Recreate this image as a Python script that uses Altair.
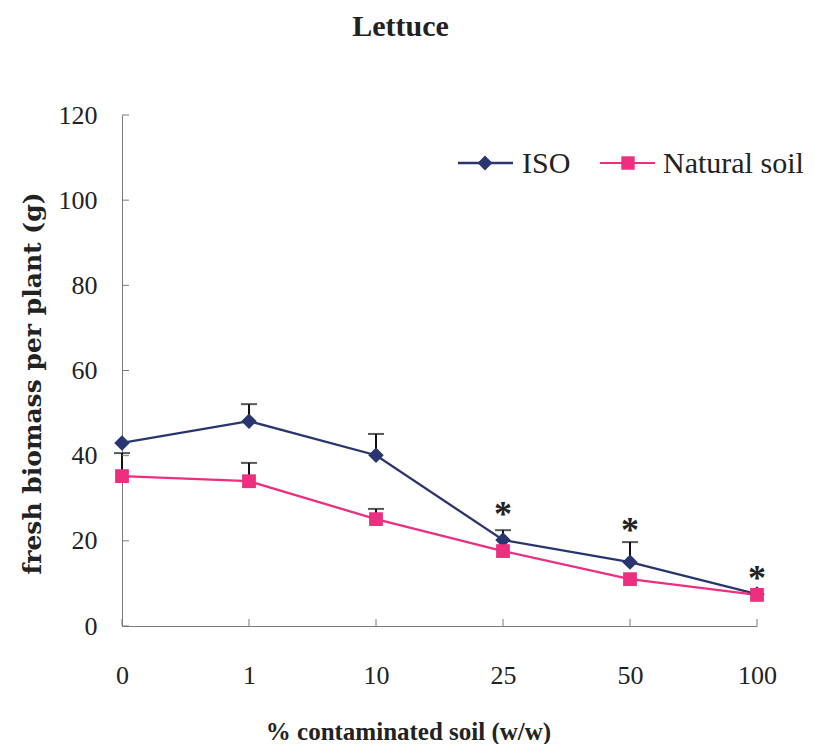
import altair as alt
import pandas as pd

categories = ["0", "1", "10", "25", "50", "100"]
iso_mean = [43.0, 48.1, 40.1, 20.2, 15.0, 7.5]
iso_upper = [None, 52.1, 45.1, 22.5, 19.7, None]
nat_mean = [35.2, 34.0, 25.1, 17.6, 11.0, 7.3]
nat_upper = [40.6, 38.3, 27.5, None, None, None]
star_cats = ["25", "50", "100"]
star_y = [27.7, 23.9, 12.7]
y_ticks = [0, 20, 40, 60, 80, 100, 120]

NAVY = "#28356E"
PINK = "#EC2F7E"
AXIS_GRAY = "#7a7a7a"
SERIF = "Liberation Serif"

rows = []
for c, m, u in zip(categories, iso_mean, iso_upper):
    rows.append({"cat": c, "series": "ISO", "mean": m, "upper": u})
for c, m, u in zip(categories, nat_mean, nat_upper):
    rows.append({"cat": c, "series": "Natural soil", "mean": m, "upper": u})
df = pd.DataFrame(rows)
err = df.dropna(subset=["upper"])
stars = pd.DataFrame({"cat": star_cats, "y": star_y, "t": ["*"] * len(star_cats)})
xt = pd.DataFrame({"cat": categories})
yt = pd.DataFrame({"v": y_ticks})

x_enc = alt.X(
    "cat:N",
    sort=categories,
    scale=alt.Scale(type="point", padding=0),
    axis=alt.Axis(
        title="% contaminated soil (w/w)",
        titleFont=SERIF, titleFontSize=25, titleFontWeight="bold", titleColor="#222",
        titleX=286, titleY=105, titleBaseline="middle",
        labelFont=SERIF, labelFontSize=26, labelColor="#222", labelAngle=0,
        labelPadding=36, ticks=False, domainColor=AXIS_GRAY, domainWidth=1, grid=False,
    ),
)
y_scale = alt.Scale(domain=[0, 120], nice=False, zero=True)
y_enc = alt.Y(
    "mean:Q",
    scale=y_scale,
    axis=alt.Axis(
        title="fresh biomass per plant (g)",
        titleFont="DejaVu Serif", titleFontSize=25, titleFontWeight="bold", titleColor="#222",
        titleX=-90, titleY=268, titleAngle=-90, titleBaseline="middle", titleAlign="center",
        labelFont=SERIF, labelFontSize=26, labelColor="#222",
        labelPadding=25, ticks=False, values=y_ticks, domainColor=AXIS_GRAY, domainWidth=1, grid=False,
    ),
)
color_enc = alt.Color(
    "series:N",
    scale=alt.Scale(domain=["ISO", "Natural soil"], range=[NAVY, PINK]),
    legend=None,
)

base = alt.Chart(df)

lines = base.mark_line(strokeWidth=2.3).encode(x=x_enc, y=y_enc, color=color_enc)

err_rule = alt.Chart(err).mark_rule(color="#111", strokeWidth=2).encode(
    x=alt.X("cat:N", sort=categories),
    y=alt.Y("mean:Q", scale=y_scale),
    y2="upper:Q",
)
err_cap = alt.Chart(err).mark_tick(color="#111", thickness=2, size=16).encode(
    x=alt.X("cat:N", sort=categories),
    y=alt.Y("upper:Q", scale=y_scale),
)

iso_pts = alt.Chart(df[df.series == "ISO"]).mark_point(
    shape="diamond", filled=True, size=240, opacity=1, color=NAVY
).encode(x=alt.X("cat:N", sort=categories), y=alt.Y("mean:Q", scale=y_scale))
nat_pts = alt.Chart(df[df.series == "Natural soil"]).mark_point(
    shape="square", filled=True, size=190, opacity=1, color=PINK
).encode(x=alt.X("cat:N", sort=categories), y=alt.Y("mean:Q", scale=y_scale))

star_text = alt.Chart(stars).mark_text(
    font=SERIF, fontSize=36, fontWeight="bold", color="#222", baseline="middle", dy=7
).encode(x=alt.X("cat:N", sort=categories), y=alt.Y("y:Q", scale=y_scale), text="t:N")

xticks = alt.Chart(xt).mark_rule(color=AXIS_GRAY, strokeWidth=1).encode(
    x=alt.X("cat:N", sort=categories), y=alt.value(504), y2=alt.value(511)
)
yticks = alt.Chart(yt).mark_rule(color=AXIS_GRAY, strokeWidth=1).encode(
    y=alt.Y("v:Q", scale=y_scale), x=alt.value(0), x2=alt.value(7)
)

# legend
leg_iso = pd.DataFrame({"series": ["ISO"]})
leg_nat = pd.DataFrame({"series": ["Natural soil"]})
LY = 48
leg = [
    alt.Chart(leg_iso).mark_rule(color=NAVY, strokeWidth=2.5).encode(x=alt.value(336), x2=alt.value(391), y=alt.value(LY)),
    alt.Chart(leg_iso).mark_point(shape="diamond", filled=True, size=220, opacity=1, color=NAVY).encode(x=alt.value(363), y=alt.value(LY)),
    alt.Chart(leg_iso).mark_text(font=SERIF, fontSize=30, color="#222", align="left", baseline="middle").encode(x=alt.value(400), y=alt.value(LY + 1), text="series:N"),
    alt.Chart(leg_nat).mark_rule(color=PINK, strokeWidth=2).encode(x=alt.value(478), x2=alt.value(533), y=alt.value(LY)),
    alt.Chart(leg_nat).mark_point(shape="square", filled=True, size=180, opacity=1, color=PINK).encode(x=alt.value(506), y=alt.value(LY)),
    alt.Chart(leg_nat).mark_text(font=SERIF, fontSize=30, color="#222", align="left", baseline="middle").encode(x=alt.value(541), y=alt.value(LY + 1), text="series:N"),
]

chart = alt.layer(
    lines, err_rule, err_cap, iso_pts, nat_pts, star_text, xticks, yticks, *leg
).properties(
    width=635,
    height=511,
    autosize=alt.AutoSizeParams(type="none"),
    padding={"left": 114, "top": 107, "right": 46, "bottom": 118},
    title=alt.TitleParams(
        "Lettuce", font=SERIF, fontSize=30, fontWeight="bold", color="#222",
        anchor="middle", dx=-39, offset=60,
    ),
).configure_view(stroke=None)

chart.save("out.html", embed_options={"renderer": "svg", "actions": False})
